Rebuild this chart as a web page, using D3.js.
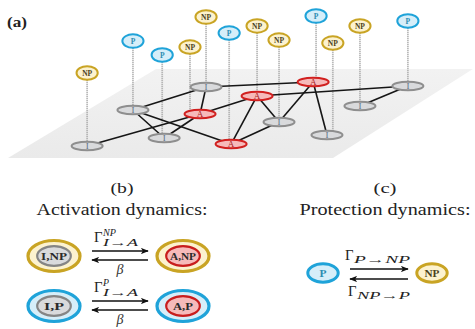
<!DOCTYPE html>
<html>
<head>
<meta charset="utf-8">
<script src="https://cdn.jsdelivr.net/npm/d3@7"></script>
<style>
  html, body { margin: 0; padding: 0; background: #fff; overflow: hidden; }
</style>
</head>
<body>
<svg id="fig" width="475" height="329" font-family="'Liberation Serif', 'Times New Roman', Tinos, 'DejaVu Serif', serif"></svg>
<script>
// ---------- (a) network on a tilted plane ----------
// node state (I = inactive, A = active) and protection tag (P / NP)
const nodeState      = ["I","I","I","A","I","A","A","I","A","I","I","I"];
const nodeProtection = ["NP","P","P","NP","NP","P","NP","NP","P","NP","NP","P"];
// plane coordinates: u along the front edge, w into the depth
const nodeU = [0.182,0.139,0.378,0.366,0.246,0.615,0.449,0.650,0.550,0.864,0.817,0.862];
const nodeW = [0.135,0.539,0.225,0.494,0.798,0.157,0.697,0.404,0.854,0.258,0.584,0.809];
// height of each protection tag above its node, and a small sideways offset
const tagLift  = [0.73,0.69,0.83,0.67,0.70,1.11,0.70,0.82,0.66,0.92,0.80,0.65];
const tagShift = [0,0,-0.006,-0.031,0,-0.006,0,0,0.009,0.018,0,0];
// undirected contacts between nodes (indices)
const links = [[0,3],[1,4],[1,2],[1,5],[2,3],[3,4],[4,8],[3,6],[6,5],[6,7],[6,11],[8,7],[8,9],[5,7],[10,11]];
const planeCorners = [[0,0],[1,0],[0.975,1],[0,1]];

// ---------- (b) activation dynamics ----------
const activationRows = [
  { ring: "NP", from: "I,NP", to: "A,NP", sup: "NP", sub: "I\u2192A", back: "\u03B2" },
  { ring: "P",  from: "I,P",  to: "A,P",  sup: "P",  sub: "I\u2192A", back: "\u03B2" }
];
// ---------- (c) protection dynamics ----------
const protectionStates = ["P", "NP"];
const protectionRates  = ["P\u2192NP", "NP\u2192P"];

const panelLabels = ["(a)", "(b)", "(c)"];
const panelTitles = ["Activation dynamics:", "Protection dynamics:"];

// ---------- styles ----------
const ringColor = { P: "#1fa3d9", NP: "#c9a424" };
const ringFill  = { P: "#d6eef9", NP: "#fcf2cf" };
const tagText   = { P: "#2c8cb1", NP: "#4b4120" };
const stateFill   = { I: "#d9dadc", A: "#f6baba" };
const stateStroke = { I: "#8e8e8e", A: "#d1201f" };
const stateText   = { I: "#5a6f88", A: "#a8201c" };

const svg = d3.select("#fig");
const defs = svg.append("defs");

// ---------- projection of the plane ----------
const ux = d3.scaleLinear().domain([0, 1]).range([8, 333]);
const wx = d3.scaleLinear().domain([0, 1]).range([0, 148]);
const wy = d3.scaleLinear().domain([0, 1]).range([158, 69]);
const lift = d3.scaleLinear().domain([0, 1]).range([0, 100]);
const px = (u, w) => ux(u) + wx(w);
const py = (w) => wy(w);

const grad = defs.append("linearGradient").attr("id", "planeGrad")
  .attr("x1", 0).attr("y1", 0).attr("x2", 0).attr("y2", 1);
grad.append("stop").attr("offset", "0%").attr("stop-color", "#f2f2f2");
grad.append("stop").attr("offset", "100%").attr("stop-color", "#eaeaea");
defs.append("filter").attr("id", "soft").append("feGaussianBlur").attr("stdDeviation", 1.2);

const net = svg.append("g");
net.append("polygon")
  .attr("points", planeCorners.map(([u, w]) => [px(u, w), py(w)].join(",")).join(" "))
  .attr("fill", "url(#planeGrad)");
net.append("line")
  .attr("x1", px(0, 0)).attr("y1", py(0) + 1)
  .attr("x2", px(1, 0)).attr("y2", py(0) + 1)
  .attr("stroke", "#d6d6d6").attr("stroke-width", 2.5).attr("filter", "url(#soft)");

const nodes = nodeState.map((s, i) => ({
  state: s, prot: nodeProtection[i],
  x: px(nodeU[i], nodeW[i]), y: py(nodeW[i]),
  tx: px(nodeU[i] + tagShift[i], nodeW[i]), ty: py(nodeW[i]) - lift(tagLift[i])
}));

const nodeRx = 15.5, nodeRy = 4.3, tagRx = 10.6, tagRy = 6.8;

// dotted drop lines from tags to nodes
net.append("g").selectAll("line").data(nodes).join("line")
  .attr("x1", d => d.tx).attr("x2", d => d.tx)
  .attr("y1", d => d.ty + tagRy).attr("y2", d => d.y - 3)
  .attr("stroke", "#a3a3a3").attr("stroke-width", 1.8).attr("stroke-dasharray", "1 1");

// contacts
net.append("g").selectAll("line").data(links).join("line")
  .attr("x1", d => nodes[d[0]].x).attr("y1", d => nodes[d[0]].y)
  .attr("x2", d => nodes[d[1]].x).attr("y2", d => nodes[d[1]].y)
  .attr("stroke", "#161616").attr("stroke-width", 1.6);

// nodes on the plane
const ng = net.append("g").selectAll("g").data(nodes).join("g")
  .attr("transform", d => `translate(${d.x},${d.y})`);
ng.append("ellipse").attr("rx", nodeRx).attr("ry", nodeRy)
  .attr("fill", d => stateFill[d.state]).attr("stroke", d => stateStroke[d.state]).attr("stroke-width", 2);
ng.append("text").text(d => d.state)
  .attr("text-anchor", "middle").attr("y", 3.2).attr("font-size", 9)
  .attr("fill", d => stateText[d.state]);

// protection tags
const tg = net.append("g").selectAll("g").data(nodes).join("g")
  .attr("transform", d => `translate(${d.tx},${d.ty})`);
tg.append("ellipse").attr("rx", tagRx).attr("ry", tagRy)
  .attr("fill", d => ringFill[d.prot]).attr("stroke", d => ringColor[d.prot]).attr("stroke-width", 2);
tg.append("text").text(d => d.prot)
  .attr("text-anchor", "middle").attr("y", 2.6).attr("font-size", 7.5).attr("font-weight", "bold")
  .attr("fill", d => tagText[d.prot]);

// ---------- panel labels and titles ----------
svg.append("text").text(panelLabels[0]).attr("x", 7).attr("y", 27)
  .attr("font-size", 14).attr("font-weight", "bold").attr("fill", "#222")
  .attr("textLength", 20).attr("lengthAdjust", "spacingAndGlyphs");
const colCenters = [122, 385];
svg.selectAll("text.plabel").data(panelLabels.slice(1)).join("text").attr("class", "plabel")
  .text(d => d).attr("x", (d, i) => colCenters[i]).attr("y", 193)
  .attr("text-anchor", "middle").attr("font-size", 15).attr("fill", "#222")
  .attr("textLength", 23).attr("lengthAdjust", "spacingAndGlyphs");
svg.selectAll("text.ptitle").data(panelTitles).join("text").attr("class", "ptitle")
  .text(d => d).attr("x", (d, i) => colCenters[i] - 85.5).attr("y", 215)
  .attr("font-size", 16).attr("fill", "#222")
  .attr("textLength", 171).attr("lengthAdjust", "spacingAndGlyphs");

// arrow heads
defs.append("marker").attr("id", "head").attr("viewBox", "0 0 10 8")
  .attr("refX", 9).attr("refY", 4).attr("markerWidth", 8).attr("markerHeight", 6.4)
  .attr("markerUnits", "userSpaceOnUse").attr("orient", "auto")
  .append("path").attr("d", "M0,0 L10,4 L0,8 L2.5,4 Z").attr("fill", "#111");

function arrowPair(g, x0, x1, yTop, yBot) {
  g.append("line").attr("x1", x0).attr("x2", x1).attr("y1", yTop).attr("y2", yTop)
    .attr("stroke", "#111").attr("stroke-width", 1.4).attr("marker-end", "url(#head)");
  g.append("line").attr("x1", x1).attr("x2", x0).attr("y1", yBot).attr("y2", yBot)
    .attr("stroke", "#111").attr("stroke-width", 1.4).attr("marker-end", "url(#head)");
}

function gamma(g, x, base, sub, subLen, sup, supLen) {
  g.append("text").text("\u0393").attr("x", x).attr("y", base)
    .attr("font-size", 14).attr("fill", "#222")
    .attr("textLength", 8.5).attr("lengthAdjust", "spacingAndGlyphs");
  if (sup) g.append("text").text(sup).attr("x", x + 9).attr("y", base - 6)
    .attr("font-size", 9.5).attr("font-style", "italic").attr("fill", "#222")
    .attr("textLength", supLen).attr("lengthAdjust", "spacingAndGlyphs");
  g.append("text").text(sub).attr("x", x + 9).attr("y", base + (sup ? 4 : 3))
    .attr("font-size", 10.5).attr("font-style", "italic").attr("fill", "#222")
    .attr("textLength", subLen).attr("lengthAdjust", "spacingAndGlyphs");
}

// ---------- (b) ----------
const rowY = d3.scalePoint().domain(d3.range(activationRows.length)).range([256, 306]);
const colX = d3.scalePoint().domain(["from", "to"]).range([54, 183]);
const pb = svg.append("g");
activationRows.forEach((r, i) => {
  const cy = rowY(i);
  [["from", "I"], ["to", "A"]].forEach(([k, s]) => {
    const cx = colX(k);
    const g = pb.append("g").attr("transform", `translate(${cx},${cy})`);
    g.append("ellipse").attr("rx", 26).attr("ry", 15.5)
      .attr("fill", ringFill[r.ring]).attr("stroke", ringColor[r.ring]).attr("stroke-width", 3.2);
    g.append("ellipse").attr("rx", 16.8).attr("ry", 9.8)
      .attr("fill", stateFill[s]).attr("stroke", s === "I" ? "#858585" : "#c81d1d").attr("stroke-width", 2.2);
    const label = r[k];
    g.append("text").text(label).attr("text-anchor", "middle").attr("y", 3.8)
      .attr("font-size", 11).attr("font-weight", "bold").attr("fill", "#2a2a2a")
      .attr("textLength", label.length > 3 ? 26 : 20).attr("lengthAdjust", "spacingAndGlyphs");
  });
  arrowPair(pb, 92, 148, cy - 5, cy + 4);
  gamma(pb, 94, cy - 14, r.sub, 35, r.sup, r.sup.length > 1 ? 13 : 6);
  pb.append("text").text(r.back).attr("x", 120).attr("y", cy + 17.5)
    .attr("text-anchor", "middle").attr("font-size", 14).attr("font-style", "italic").attr("fill", "#333");
});

// ---------- (c) ----------
const pcX = d3.scalePoint().domain(protectionStates).range([323, 432]);
const pcY = 273;
const pc = svg.append("g");
protectionStates.forEach(s => {
  const g = pc.append("g").attr("transform", `translate(${pcX(s)},${pcY})`);
  g.append("ellipse").attr("rx", 15.2).attr("ry", 9.2)
    .attr("fill", ringFill[s]).attr("stroke", ringColor[s]).attr("stroke-width", 3);
  g.append("text").text(s).attr("text-anchor", "middle").attr("y", 3.5)
    .attr("font-size", 10).attr("font-weight", "bold").attr("fill", tagText[s])
    .attr("textLength", s.length > 1 ? 15 : 7).attr("lengthAdjust", "spacingAndGlyphs");
});
arrowPair(pc, 350, 408, pcY - 4, pcY + 6);
gamma(pc, 345, pcY - 13, protectionRates[0], 56);
gamma(pc, 348, pcY + 23, protectionRates[1], 53);
</script>
</body>
</html>
